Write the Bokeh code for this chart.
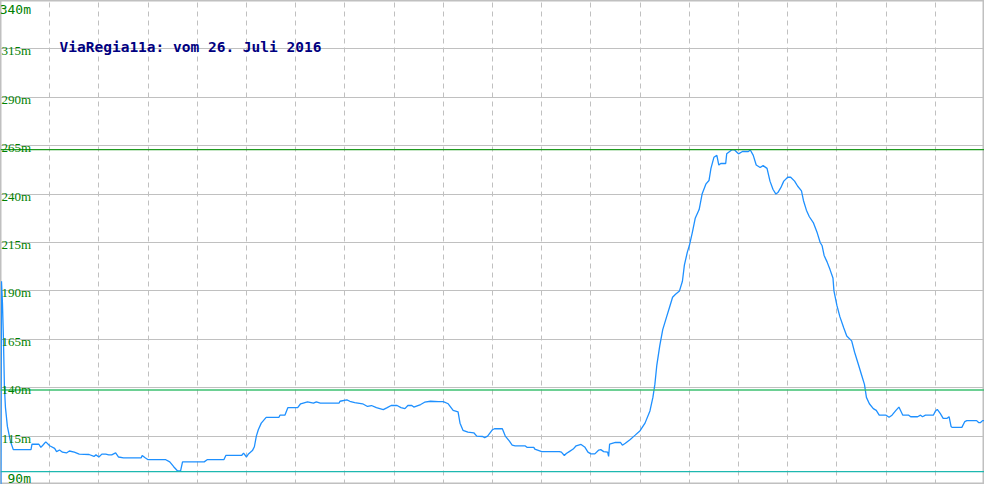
from bokeh.plotting import figure
from bokeh.models import Range1d, FixedTicker, ColumnDataSource, LabelSet, Label, Span
from bokeh.embed import file_html
from bokeh.resources import INLINE

# distance (sample position along the track) and elevation (m)
dist = [0, 1, 2, 3, 4, 5, 7, 10, 13, 31, 32, 39, 41, 43, 46, 50, 55, 57, 60, 63, 67, 70, 75, 80, 90,
        95, 97, 100, 103, 107, 110, 113, 117, 120, 125, 143, 144, 147, 150, 168, 172, 176, 180, 183,
        185, 207, 210, 227, 229, 245, 247, 250, 252, 256, 258, 260, 262, 265, 270, 283, 284, 289,
        292, 302, 305, 312, 318, 321, 325, 344, 345, 352, 355, 360, 368, 373, 377, 382, 389, 393,
        397, 403, 407, 411, 414, 418, 420, 427, 431, 437, 445, 450, 455, 460, 465, 467, 470, 475,
        481, 484, 490, 492, 495, 500, 502, 510, 513, 517, 520, 523, 533, 535, 542, 543, 550, 568,
        570, 573, 575, 578, 582, 585, 590, 594, 597, 600, 604, 608, 610, 613, 617, 618, 619, 625,
        630, 632, 635, 640, 645, 650, 655, 660, 663, 665, 667, 670, 673, 677, 680, 683, 686, 690,
        693, 695, 698, 700, 703, 706, 710, 713, 717, 720, 722, 725, 728, 730, 732, 737, 738, 741,
        743, 746, 750, 754, 760, 762, 765, 768, 772, 775, 779, 782, 785, 788, 790, 793, 796, 800,
        803, 807, 810, 814, 816, 819, 822, 826, 830, 833, 835, 837, 840, 843, 846, 847, 850, 853,
        857, 860, 865, 868, 872, 875, 878, 880, 883, 887, 890, 893, 900, 903, 906, 910, 913, 917,
        923, 925, 932, 935, 937, 940, 948, 950, 952, 955, 958, 962, 964, 966, 967, 977, 980, 982,
        992, 994, 996, 998, 1000]
elev = [0, 195, 183.5, 165, 140, 130, 120, 112.5, 108, 108, 110.8, 110.8, 109.2, 110.3, 112, 110,
        108.7, 107, 107.8, 106.7, 106.3, 107.3, 106.7, 105.7, 105.5, 104.5, 105.3, 104.2, 105.7,
        105.7, 105.3, 105.3, 106.3, 104.2, 103.8, 103.8, 105, 103.8, 102.8, 102.8, 101.7, 99.2, 97,
        97, 101.7, 101.7, 102.8, 102.8, 105, 105, 106.2, 104.2, 105.8, 107.5, 109.5, 115, 118.3,
        121.7, 124.7, 124.7, 125.8, 125.8, 129.7, 129.7, 131.7, 132.7, 132, 132.7, 132, 132, 133,
        133.7, 133, 132.3, 131.7, 130.3, 130.8, 129.7, 128.7, 129.7, 130.8, 130.8, 129.7, 129.2,
        130.8, 130.8, 130, 131.3, 132.5, 133, 132.8, 132.8, 131.7, 128.3, 127.5, 121.7, 118, 117,
        116.7, 115, 114.8, 114.2, 115, 118.3, 118.8, 118.8, 115, 112.5, 110.3, 110, 110, 109.2,
        109.2, 108.3, 107, 107, 106.7, 105, 106, 107, 108.3, 110, 110.7, 109.2, 106.7, 105.8, 105.8,
        107.8, 108, 107, 106.7, 104.5, 110.8, 111.7, 111.7, 110.3, 111.3, 113.3, 115.5, 117.8,
        121.7, 128, 135, 141.7, 151.7, 161.7, 170, 176.7, 181.7, 186.7, 188.3, 190, 195, 203.3, 210,
        213.3, 220, 227.5, 232, 240, 245.3, 247, 253.3, 259, 260, 255, 255.8, 255.8, 260.8, 262,
        262.8, 262.8, 260.8, 262, 262, 262.8, 260, 255, 253.7, 254.7, 253.3, 246.7, 242.5, 240,
        240.8, 243.3, 246.7, 248.7, 248.7, 246.7, 244.2, 241.7, 236.7, 231.7, 228.3, 225.3, 220,
        215, 213.3, 208.3, 205, 201, 196.7, 190, 182.5, 176.7, 170.8, 166.7, 164.2, 158.3, 151.7,
        146.7, 141.7, 135, 131.7, 129.2, 128.3, 125.8, 125.8, 124.7, 125.8, 128.3, 130, 125.8,
        125.8, 125, 125, 125.8, 125, 125.8, 125.8, 127.8, 128.8, 126.7, 124.2, 124.2, 125, 120,
        119.5, 119.5, 122.5, 123, 123, 122, 122, 123, 123]

# reference levels: maximum, mean, minimum
level_max = 263
level_mean = 138.8
level_min = 96.7

y_ticks = [90, 115, 140, 165, 190, 215, 240, 265, 290, 315, 340]
y_tick_labels = ["90m", "115m", "140m", "165m", "190m", "215m", "240m", "265m", "290m", "315m", "340m"]
x_grid = [50, 100, 150, 200, 250, 300, 350, 400, 450, 500, 550, 600, 650, 700, 750, 800, 850, 900, 950]

title = "ViaRegia11a: vom 26. Juli 2016"

p = figure(width=984, height=484, output_backend="svg", toolbar_location=None,
           x_range=Range1d(0, 1000), y_range=Range1d(90, 340),
           min_border=0, min_border_left=0, min_border_right=0, min_border_top=0, min_border_bottom=0)
p.xaxis.visible = False
p.yaxis.visible = False
p.background_fill_color = "white"
p.border_fill_color = "white"
p.outline_line_color = "#c0c0c0"
p.outline_line_width = 2

p.xgrid.ticker = FixedTicker(ticks=x_grid)
p.xgrid.grid_line_color = "#c0c0c0"
p.xgrid.grid_line_dash = "5 4"
p.xgrid.grid_line_width = 1
p.ygrid.ticker = FixedTicker(ticks=y_ticks)
p.ygrid.grid_line_color = "#c0c0c0"
p.ygrid.grid_line_width = 1

for lv, col in [(level_max, "#1f9a1f"), (level_mean, "#3cc070"), (level_min, "#1db8b0")]:
    p.add_layout(Span(location=lv, dimension="width", line_color=col, line_width=1.3))

p.line(dist, elev, line_color="#1e90ff", line_width=1.3)

font = "DejaVu Sans Mono"
src = ColumnDataSource(dict(y=y_ticks[1:-1], t=y_tick_labels[1:-1], x=[31] * (len(y_ticks) - 2)))
p.add_layout(LabelSet(x="x", y="y", text="t", source=src, text_align="right",
                      text_baseline="middle", y_offset=-2, text_color="#008000",
                      text_font=font, text_font_size="13px"))
p.add_layout(Label(x=31, y=y_ticks[-1], text=y_tick_labels[-1], text_align="right",
                   text_baseline="top", y_offset=-1, text_color="#008000",
                   text_font=font, text_font_size="13px"))
p.add_layout(Label(x=31, y=y_ticks[0], text=y_tick_labels[0], text_align="right",
                   text_baseline="bottom", y_offset=-1, text_color="#008000",
                   text_font=font, text_font_size="13px"))

p.add_layout(Label(x=60, y=316, text=title, text_align="left", text_baseline="middle",
                   text_color="#000080", text_font=font, text_font_style="bold",
                   text_font_size="14.5px"))

open("out.html", "w").write(file_html(p, INLINE))
